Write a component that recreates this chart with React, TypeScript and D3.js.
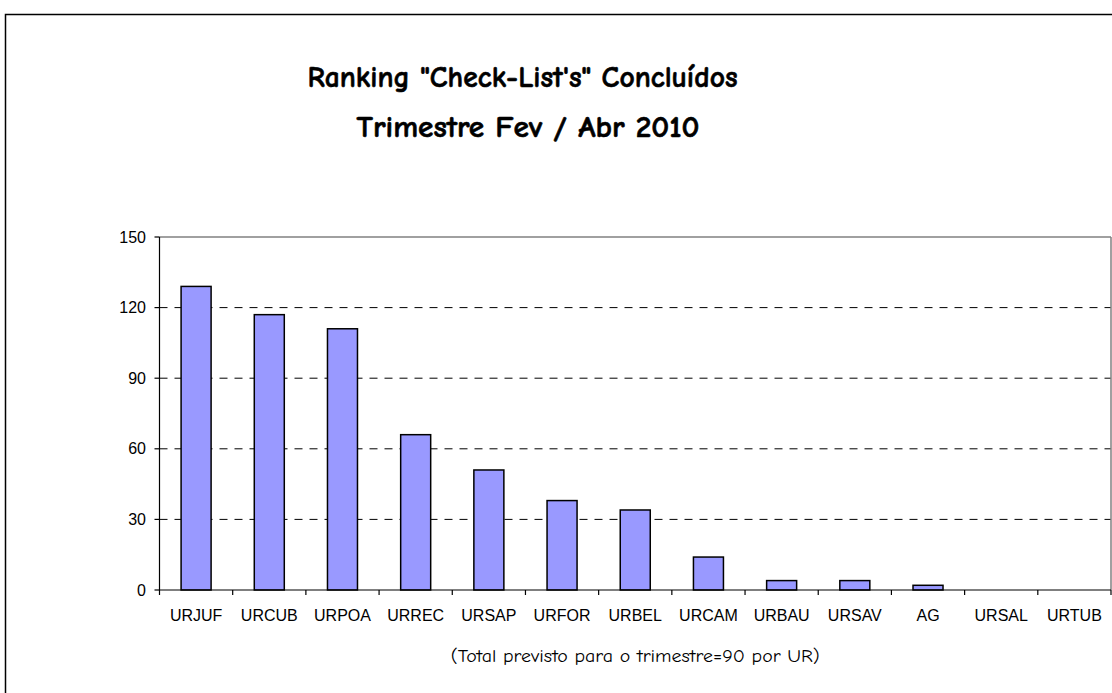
import React from "react";
import * as d3 from "d3";

const categories = ["URJUF", "URCUB", "URPOA", "URREC", "URSAP", "URFOR", "URBEL", "URCAM", "URBAU", "URSAV", "AG", "URSAL", "URTUB"];
const values = [129, 117, 111, 66, 51, 38, 34, 14, 4, 4, 2, 0, 0];
const yTicks = [0, 30, 60, 90, 120, 150];
const titleLines = ["Ranking \"Check-List's\" Concluídos", "Trimestre Fev / Abr 2010"];
const xAxisTitle = "(Total previsto para o trimestre=90 por UR)";

const W = 1112;
const H = 693;
const plot = { left: 159.5, right: 1111, top: 237, bottom: 590 };
const comic = "'Comic Sans MS', 'Comic Neue', Lato, 'DejaVu Sans', sans-serif";
const arial = "Arial, 'Liberation Sans', Helvetica, sans-serif";

export default function App() {
  const x = d3.scaleBand<string>().domain(categories).range([plot.left, plot.right]).paddingInner(0).paddingOuter(0);
  const y = d3.scaleLinear().domain([0, 150]).range([plot.bottom, plot.top]);
  const bw = x.bandwidth() * 0.41;
  const boundaries = categories.map((c) => x(c) as number).concat([plot.right]);

  return (
    <div style={{ position: "absolute", left: 0, top: 0 }}>
      <svg width={W} height={H} style={{ display: "block", background: "#fff" }}>
        {/* outer chart frame */}
        <rect x={5.5} y={14.5} width={W + 20} height={H + 20} fill="#fff" stroke="#000" strokeWidth={1.5} />

        {/* title */}
        <text x={522.5} y={87} textAnchor="middle" fontFamily={comic} fontWeight="bold" fontSize={31} fill="#000" stroke="#000" strokeWidth={0.6} textLength={430} lengthAdjust="spacingAndGlyphs">
          {titleLines[0]}
        </text>
        <text x={528} y={137} textAnchor="middle" fontFamily={comic} fontWeight="bold" fontSize={31} fill="#000" stroke="#000" strokeWidth={0.6} textLength={343} lengthAdjust="spacingAndGlyphs">
          {titleLines[1]}
        </text>

        {/* gridlines */}
        {yTicks.filter((t) => t > 0 && t < 150).map((t) => (
          <line key={"g" + t} x1={plot.left} x2={plot.right} y1={y(t)} y2={y(t)} stroke="#000" strokeWidth={1} strokeDasharray="8,7" />
        ))}

        {/* plot border top/right */}
        <line x1={plot.left} x2={plot.right} y1={plot.top} y2={plot.top} stroke="#808080" strokeWidth={1.5} />
        <line x1={plot.right} x2={plot.right} y1={plot.top} y2={plot.bottom} stroke="#808080" strokeWidth={1.5} />

        {/* bars */}
        {categories.map((c, i) =>
          values[i] > 0 ? (
            <rect
              key={c}
              x={(x(c) as number) + (x.bandwidth() - bw) / 2}
              y={y(values[i])}
              width={bw}
              height={plot.bottom - y(values[i])}
              fill="#9999FF"
              stroke="#000"
              strokeWidth={1.5}
            />
          ) : null
        )}

        {/* y axis */}
        <line x1={plot.left} x2={plot.left} y1={plot.top} y2={plot.bottom} stroke="#000" strokeWidth={1.2} />
        {yTicks.map((t) => (
          <g key={"y" + t}>
            <line x1={plot.left - 5} x2={plot.left} y1={y(t)} y2={y(t)} stroke="#000" strokeWidth={1.2} />
            <text x={146} y={y(t)} dy="0.35em" textAnchor="end" fontFamily={arial} fontSize={16} fill="#000">
              {t}
            </text>
          </g>
        ))}

        {/* x axis */}
        <line x1={plot.left} x2={plot.right} y1={plot.bottom} y2={plot.bottom} stroke="#000" strokeWidth={1.2} />
        {boundaries.map((b, i) => (
          <line key={"xt" + i} x1={b} x2={b} y1={plot.bottom} y2={plot.bottom + 5} stroke="#000" strokeWidth={1.2} />
        ))}
        {categories.map((c) => (
          <text key={"xl" + c} x={(x(c) as number) + x.bandwidth() / 2} y={621} textAnchor="middle" fontFamily={arial} fontSize={16} fill="#000">
            {c}
          </text>
        ))}

        {/* x axis title */}
        <text x={(plot.left + plot.right) / 2} y={662} textAnchor="middle" fontFamily={comic} fontSize={18} fill="#000" textLength={369} lengthAdjust="spacingAndGlyphs">
          {xAxisTitle}
        </text>
      </svg>
    </div>
  );
}
